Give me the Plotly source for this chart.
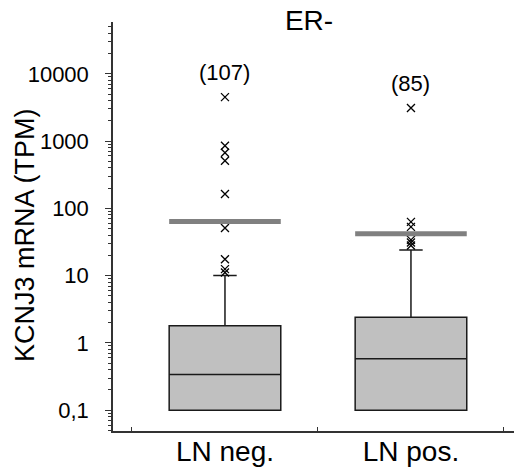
import plotly.graph_objects as go
import math

categories = ["LN neg.", "LN pos."]
q1 = [0.1, 0.1]
medians = [0.34, 0.58]
q3 = [1.8, 2.4]
lower_fence = [0.1, 0.1]
upper_fence = [10, 24]
means = [64, 42]
counts = [107, 85]
outliers_neg = [4500, 850, 670, 510, 163, 51, 17.5, 12.5, 11.1]
outliers_pos = [3100, 63, 53, 34, 31, 28]
y_tickvals = [0.1, 1, 10, 100, 1000, 10000]
y_ticktext = ["0,1", "1", "10", "100", "1000", "10000"]
count_label_y = [10400, 7200]

FONT = "Liberation Sans, Arial, sans-serif"
W, H = 514, 464  # page body adds an 8px offset

fig = go.Figure()
for i, cat in enumerate(categories):
    fig.add_trace(go.Box(
        x=[cat], q1=[q1[i]], median=[medians[i]], q3=[q3[i]],
        lowerfence=[lower_fence[i]], upperfence=[upper_fence[i]],
        width=0.6, whiskerwidth=0.21, boxpoints=False,
        fillcolor="#c0c0c0", line=dict(color="#1a1a1a", width=1.5),
        showlegend=False, hoverinfo="skip",
    ))

for cat, vals in zip(categories, [outliers_neg, outliers_pos]):
    fig.add_trace(go.Scatter(
        x=[cat] * len(vals), y=vals, mode="markers",
        marker=dict(symbol="x-thin", size=8, line=dict(width=1.3, color="black")),
        showlegend=False, hoverinfo="skip",
    ))

for i, m in enumerate(means):
    fig.add_shape(type="line", xref="x", yref="y", x0=i - 0.3, x1=i + 0.3,
                  y0=m, y1=m, line=dict(color="#808080", width=5))

for i, c in enumerate(counts):
    fig.add_annotation(x=categories[i], y=math.log10(count_label_y[i]),
                       text=f"({c})", showarrow=False,
                       font=dict(size=22, color="black", family=FONT))

fig.add_annotation(x=(25 - 113) / 409, y=(431 - 235) / 409, xref="paper", yref="paper",
                   xanchor="center", yanchor="middle",
                   text="KCNJ3 mRNA (TPM)", textangle=-90, showarrow=False,
                   font=dict(size=27, color="black", family=FONT))

fig.update_layout(
    width=W, height=H,
    margin=dict(l=105, r=0, t=14, b=41, autoexpand=False),
    paper_bgcolor="white", plot_bgcolor="white",
    font=dict(family=FONT, color="black"),
    title=dict(text="ER-", x=(309 - 8) / W, xanchor="center", xref="container",
               y=1 - (20 - 8) / H, yanchor="middle", yref="container",
               font=dict(size=28, color="black", family=FONT)),
    xaxis=dict(type="category", range=[-0.602, 1.597], tickson="boundaries",
               ticks="inside", ticklen=4, tickcolor="#333", showline=True,
               linecolor="#333", linewidth=1.5, showgrid=False, zeroline=False,
               automargin=False,
               tickfont=dict(size=28, color="black"), ticklabelstandoff=-5),
    yaxis=dict(type="log", range=[-1.31, 4.77], tickvals=y_tickvals, ticktext=y_ticktext,
               ticks="outside", ticklen=6, tickcolor="#333", showline=True,
               linecolor="#333", linewidth=1.5, showgrid=False, zeroline=False,
               automargin=False,
               tickfont=dict(size=22, color="black"), ticklabelstandoff=12,
               minor=dict(ticks="outside", ticklen=3, tickcolor="#333", dtick="D1", showgrid=False)),
)

fig.write_html("out.html")
